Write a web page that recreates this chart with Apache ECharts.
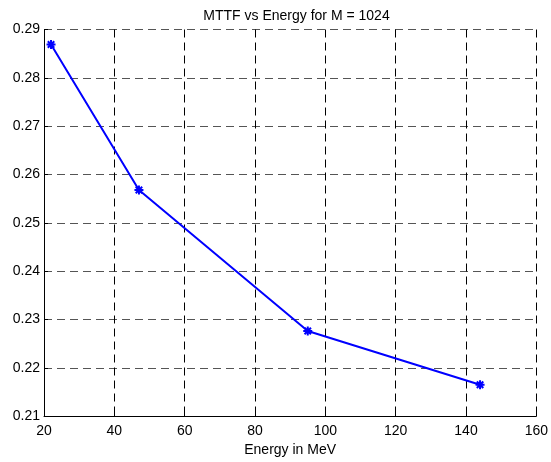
<!DOCTYPE html>
<html><head><meta charset="utf-8">
<script src="https://cdn.jsdelivr.net/npm/echarts@6/dist/echarts.min.js"></script>
<style>html,body{margin:0;padding:0;background:#fff}#c{width:551px;height:462px}</style>
</head><body><div id="c"></div>
<script>
var energy = [22, 47, 95, 144];
var mttf = [0.2869, 0.2568, 0.2276, 0.2165];
var titleText = 'MTTF vs Energy for M = 1024';
var xName = 'Energy in MeV';

var chart = echarts.init(document.getElementById('c'), null, {renderer: 'canvas'});
var font = 'Liberation Sans, Arial, Helvetica, sans-serif';
chart.setOption({
  animation: false,
  backgroundColor: '#fff',
  title: {text: titleText, left: 291.5, textAlign: 'center', top: 4,
    textStyle: {fontFamily: font, fontSize: 14, fontWeight: 'normal', color: '#000'}},
  grid: {left: 44, right: 12, top: 29.5, bottom: 42.5, containLabel: false},
  xAxis: {type: 'value', min: 20, max: 160, interval: 20,
    name: xName, nameLocation: 'middle', nameGap: 24,
    nameTextStyle: {fontFamily: font, fontSize: 14, color: '#000'},
    axisLine: {show: true, lineStyle: {color: '#000', width: 1}},
    axisTick: {show: true, inside: true, length: 4, lineStyle: {color: '#000'}},
    axisLabel: {fontFamily: font, fontSize: 14, color: '#000', margin: 8},
    splitLine: {show: true, lineStyle: {color: '#000', type: [8, 5], width: 1}}},
  yAxis: {type: 'value', min: 0.21, max: 0.29, interval: 0.01,
    axisLine: {show: true, lineStyle: {color: '#000', width: 1}},
    axisTick: {show: true, inside: true, length: 4, lineStyle: {color: '#000'}},
    axisLabel: {fontFamily: font, fontSize: 14, color: '#000', margin: 4,
      formatter: function (v) { return v.toFixed(2); }},
    splitLine: {show: true, lineStyle: {color: '#555', type: [8, 5], width: 1}}},
  series: [{
    type: 'line',
    data: energy.map(function (e, i) { return [e, mttf[i]]; }),
    lineStyle: {color: '#0000ff', width: 2},
    symbol: 'path://M0,-5L0,5M-5,0L5,0M-3.6,-3.6L3.6,3.6M-3.6,3.6L3.6,-3.6',
    symbolSize: 9,
    itemStyle: {color: 'none', borderColor: '#0000ff', borderWidth: 2},
    z: 5
  }]
});
</script></body></html>
